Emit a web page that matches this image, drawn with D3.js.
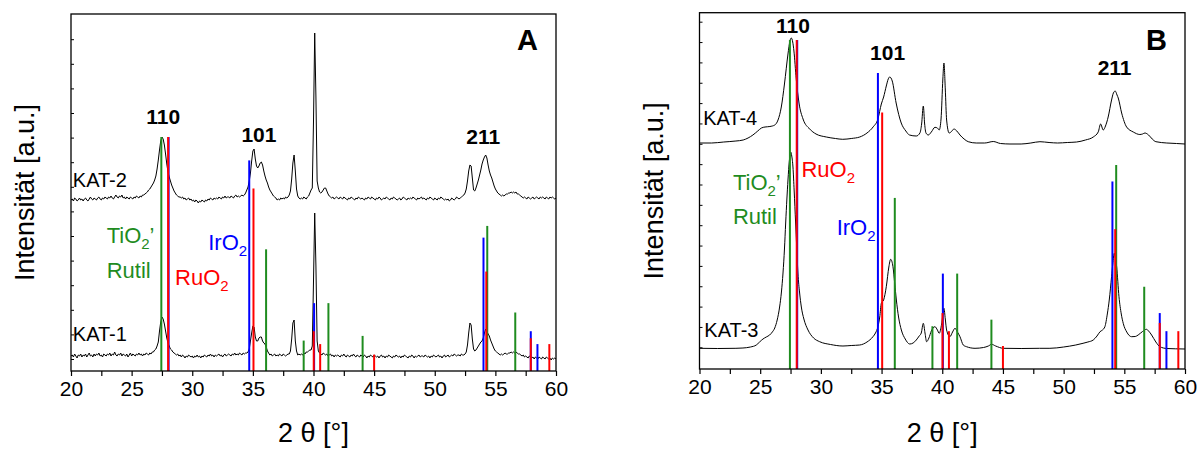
<!DOCTYPE html>
<html>
<head>
<meta charset="utf-8">
<script src="https://cdn.jsdelivr.net/npm/d3@7"></script>
<style>
  html, body { margin: 0; padding: 0; background: #fff; }
  svg { display: block; font-family: "Liberation Sans", Arial, Helvetica, sans-serif; }
</style>
</head>
<body>
<svg id="chart" width="1203" height="449"></svg>
<script>
// ---- measured diffractograms, 2θ = 20.0 … 60.0 °, step 0.1 ° (intensity in a.u.) ----
const angleGrid = d3.range(200, 601).map(i => i / 10);

const kat2 = [
  171,172,170,173,172,170,171,173,171,172,
  170,172,173,171,170,172,174,172,171,173,
  172,171,173,174,172,171,173,172,174,173,
  172,174,173,175,173,172,174,176,174,173,
  175,174,176,173,174,172,174,173,172,174,
  173,172,174,173,175,174,173,175,174,176,
  176,177,178,179,181,182,184,186,188,191,
  195,202,211,221,230,234,232,226,217,207,
  199,194,190,186,183,180,178,176,175,174,
  174,173,174,172,173,171,172,173,171,172,
  170,171,169,171,170,168,170,169,171,170,
  169,171,170,172,171,173,172,171,173,172,
  173,172,174,173,172,174,173,175,173,174,
  174,173,175,174,173,175,176,174,175,174,
  175,176,175,176,178,181,184,190,198,210,
  220,222,212,205,203,205,208,209,206,200,
  195,191,188,184,181,179,177,175,174,173,
  171,172,171,173,172,173,172,174,173,174,
  176,180,192,208,216,200,182,175,173,172,
  173,172,174,173,172,174,175,178,181,183,
  250,338,274,190,183,179,178,179,181,183,
  183,180,177,175,174,173,174,172,173,174,
  173,172,174,173,172,174,173,172,171,173,
  172,174,173,172,171,173,172,174,173,172,
  173,172,171,173,172,174,173,172,174,173,
  172,171,173,172,174,173,171,172,173,172,
  174,173,172,171,173,172,174,173,172,171,
  172,173,171,172,174,173,172,171,173,172,
  173,172,174,173,172,171,173,172,173,174,
  172,173,172,171,173,172,174,173,172,171,
  173,172,171,173,172,174,173,172,171,172,
  171,172,170,171,173,172,171,172,174,173,
  172,173,174,175,176,178,182,190,200,206,
  205,193,181,180,183,187,191,196,201,207,
  211,214,216,213,206,200,196,193,189,185,
  182,180,178,177,176,175,176,175,176,177,
  177,178,178,179,178,179,178,179,177,177,
  176,175,174,173,174,173,172,174,173,172,
  173,174,172,173,174,173,172,174,173,174,
  173,172,174,173,172,174,173,174,173,172,
  173
];

const kat1 = [
  15,16,14,17,15,13,16,15,17,14,
  16,15,17,14,16,18,15,16,14,17,
  15,17,16,18,15,16,14,17,16,15,
  17,16,18,15,17,16,19,16,15,17,
  16,18,15,17,16,15,17,14,16,18,
  15,17,16,15,17,16,18,16,17,15,
  17,16,18,17,16,18,17,19,19,21,
  22,25,29,40,49,54,52,47,40,33,
  28,25,22,21,19,18,17,16,17,15,
  16,14,16,15,13,15,14,16,15,14,
  15,13,15,14,16,14,15,13,15,14,
  16,15,14,16,15,17,15,16,14,16,
  15,16,17,15,16,14,16,17,15,16,
  17,16,15,17,16,18,16,17,16,18,
  17,16,18,17,18,18,19,22,30,38,
  45,44,34,30,30,33,34,34,30,28,
  27,24,20,18,16,17,15,16,17,15,
  16,15,17,16,15,17,16,15,16,17,
  17,20,32,48,51,30,20,16,17,16,
  17,16,18,17,19,19,20,21,21,25,
  90,158,105,30,20,18,17,16,18,17,
  16,17,15,16,17,15,16,14,16,15,
  16,15,14,16,15,17,15,14,16,15,
  14,16,15,17,15,14,16,15,14,16,
  15,14,16,15,13,15,14,16,15,14,
  16,15,14,15,13,15,16,14,15,13,
  15,14,16,15,14,13,15,14,16,15,
  14,15,13,15,14,16,15,14,13,15,
  14,16,15,13,15,14,15,16,14,15,
  15,14,16,15,14,15,13,15,14,16,
  15,14,15,16,14,15,13,15,16,14,
  15,16,14,15,16,15,17,16,15,16,
  16,15,17,16,16,17,19,26,38,48,
  46,32,22,20,21,23,25,27,29,30,
  33,38,42,40,37,35,31,28,25,22,
  20,19,18,17,16,17,16,17,18,17,
  17,18,18,19,18,19,18,19,18,17,
  17,16,15,16,14,15,14,13,15,14,
  13,14,12,14,13,12,14,13,12,14,
  13,12,14,13,12,13,11,13,12,13,
  12
];

// smoother scans, [2θ, intensity]
const kat4 = [
  [20.0,226],[21.0,226],[22.0,227],[23.0,228],[23.6,229],[24.0,231],[24.4,234],[24.8,238],
  [25.1,241],[25.4,242],[25.8,242.5],[26.2,244],[26.47,249],[26.74,262],[27.0,285],[27.29,315],
  [27.45,328],[27.56,331],[27.68,327],[27.78,318],[27.97,290],[28.2,266],[28.53,250],[29.08,240],
  [29.6,235],[30.45,232],[31.2,230.5],[31.8,229.7],[32.5,230.5],[33.2,232],[33.8,236],[34.3,242],
  [34.7,250],[34.98,265],[35.17,272],[35.39,283],[35.55,290],[35.67,292],[35.88,288],[36.2,266],
  [36.62,246],[37.0,238],[37.3,234],[37.86,233],[38.16,236],[38.3,245],[38.44,263],[38.55,245],
  [38.66,236],[38.85,234],[39.1,237],[39.4,241.7],[39.6,241],[39.75,239],[39.9,250],[40.05,290],
  [40.14,306],[40.25,280],[40.36,249],[40.57,236],[40.8,238],[40.96,240],[41.2,238],[41.46,234],
  [41.8,230],[42.14,227.3],[42.8,226],[43.5,226],[44.2,227.5],[44.8,225.5],[45.58,225],[46.5,225],
  [47.3,226],[48.05,227.3],[48.8,226.5],[49.5,226],[50.3,226.5],[51.07,227],[51.8,229],[52.44,232],
  [52.85,237],[53.05,245],[53.26,239],[53.45,243],[53.67,252],[53.95,269],[54.1,276],[54.25,278],
  [54.4,274],[54.5,271],[54.78,256],[55.19,242],[55.74,237],[56.28,234.5],[56.5,235],[56.7,236],
  [57.0,234],[57.3,230],[57.6,227.3],[58.5,226],[59.3,225.5],[60.0,225]
];

const kat3 = [
  [20.0,20.7],[21.5,20.5],[23.0,20.7],[23.58,21],[24.2,22],[24.68,24],[24.95,27],[25.23,30],
  [25.5,32],[25.78,34],[26.0,37],[26.2,41],[26.4,49],[26.6,62],[26.75,77],[26.88,96],
  [27.0,120],[27.1,146],[27.2,170],[27.29,189],[27.4,208],[27.51,217],[27.6,213],[27.7,202],
  [27.8,178],[27.92,146],[28.0,124],[28.11,96],[28.25,76],[28.39,62],[28.6,50],[28.94,39],
  [29.4,31],[29.9,27.3],[30.8,24.5],[31.82,23],[32.5,23.5],[33.2,24],[33.8,27],[34.29,32.3],
  [34.5,36],[34.7,42.3],[34.85,52],[34.98,65.7],[35.17,69],[35.39,82.3],[35.6,102],[35.75,109.7],
  [35.94,102.3],[36.08,86],[36.22,69],[36.4,52],[36.63,39],[36.95,30],[37.32,25],[37.6,26],
  [37.86,29],[38.1,33],[38.27,36],[38.44,45.7],[38.58,36],[38.71,27.3],[38.9,31],[39.1,38],
  [39.4,42.3],[39.6,39],[39.75,35.7],[39.95,45],[40.14,60.7],[40.25,50],[40.36,39],[40.63,32.3],
  [40.85,37],[41.05,40.7],[41.25,37],[41.46,32.3],[41.73,24],[42.0,22.3],[42.7,20.7],[43.4,21.5],
  [43.8,23],[44.07,24.7],[44.4,23],[45.03,20.7],[46.5,20.5],[48.0,20.7],[48.87,20.7],[50.0,22],
  [51.0,24],[51.6,25.7],[52.0,27],[52.44,29],[52.75,33],[53.0,37.3],[53.2,39],[53.4,42.3],
  [53.6,55],[53.76,69],[53.95,92.3],[54.05,105],[54.17,115.7],[54.27,111],[54.37,102.3],[54.56,72.3],
  [54.75,55],[54.91,45.7],[55.2,37],[55.6,32.3],[55.9,32.5],[56.14,34],[56.5,37.5],[56.83,39.7],
  [57.0,38],[57.25,34],[57.6,27],[57.93,22.3],[58.5,20.5],[59.2,20.2],[60.0,20]
];

// ---- reference patterns [2θ, relative intensity %] ----
const rutilTiO2 = [[27.45,100],[36.09,52],[39.19,13],[41.23,29],[44.05,15],[54.33,62],[56.64,25]];
const iro2Ref   = [[28.05,100],[34.70,90],[40.05,29],[54.02,57],[57.92,17],[58.47,11.5]];
const ruo2Ref   = [[28.01,100],[35.05,78],[40.02,17],[40.55,11.5],[45.00,7],[54.25,42.5],[57.92,14],[59.45,11.5]];

const xTickValues = [20, 25, 30, 35, 40, 45, 50, 55, 60];
const xMinorValues = [22.5, 27.5, 32.5, 37.5, 42.5, 47.5, 52.5, 57.5];

const COL = { tio2: "#1f8c1f", iro2: "#0000ff", ruo2: "#ff0000", ink: "#000" };

const svg = d3.select("#chart");

const panels = [
  {
    letter: "A", left: 71, right: 556, top: 14, bottom: 371,
    yMax: 357, stickFull: 234, yTickStart: 12, yTickStep: 24.6,
    scans: [
      { data: angleGrid.map((t, i) => [t, kat2[i]]), smooth: false },
      { data: angleGrid.map((t, i) => [t, kat1[i]]), smooth: false }
    ],
    scanLabels: [{ text: "KAT-2", x: 20.15, y: 184 }, { text: "KAT-1", x: 20.15, y: 30.5 }],
    hkl: [{ text: "110", x: 27.6, y: 247 }, { text: "101", x: 35.5, y: 229.5 }, { text: "211", x: 54.0, y: 227 }],
    phases: {
      tio2: { x: 22.94, y: 127.7, y2: 92.7 },
      ruo2: { x: 28.58, y: 86 },
      iro2: { x: 31.32, y: 121 }
    }
  },
  {
    letter: "B", left: 699.5, right: 1185, top: 12.7, bottom: 369,
    yMax: 356.3, stickFull: 329, yTickStart: 21.7, yTickStep: 20.35,
    scans: [
      { data: kat4, smooth: true },
      { data: kat3, smooth: true }
    ],
    scanLabels: [{ text: "KAT-4", x: 20.3, y: 244 }, { text: "KAT-3", x: 20.4, y: 32.3 }],
    hkl: [{ text: "110", x: 27.7, y: 335.7 }, { text: "101", x: 35.5, y: 309 }, { text: "211", x: 54.2, y: 294 }],
    phases: {
      tio2: { x: 22.75, y: 179, y2: 145 },
      ruo2: { x: 28.4, y: 192.3 },
      iro2: { x: 31.3, y: 134 }
    }
  }
];

function phaseLabel(g, x, y, main, sub, tail, color) {
  const t = g.append("text").attr("x", x).attr("y", y)
    .attr("fill", color).attr("font-size", 22);
  t.append("tspan").text(main);
  t.append("tspan").attr("font-size", 15).attr("dy", 6).text(sub);
  if (tail) t.append("tspan").attr("dy", -6).text(tail);
}

panels.forEach(p => {
  const x = d3.scaleLinear().domain([20, 60]).range([p.left, p.right]);
  const y = d3.scaleLinear().domain([0, p.yMax]).range([p.bottom, p.top]);
  const yStick = d3.scaleLinear().domain([0, 100]).range([y(0), y(p.stickFull)]);
  const g = svg.append("g");

  // scans
  const line = d3.line().x(d => x(d[0])).y(d => y(d[1]))
    .curve(d3.curveLinear);
  const smoothLine = d3.line().x(d => x(d[0])).y(d => y(d[1]))
    .curve(d3.curveMonotoneX);
  p.scans.forEach(s => {
    g.append("path").datum(s.data)
      .attr("d", s.smooth ? smoothLine : line)
      .attr("fill", "none").attr("stroke", COL.ink)
      .attr("stroke-width", 1).attr("stroke-linejoin", "round");
  });

  // reference sticks
  [[rutilTiO2, COL.tio2], [iro2Ref, COL.iro2], [ruo2Ref, COL.ruo2]].forEach(([ref, col]) => {
    g.append("g").selectAll("line").data(ref).join("line")
      .attr("x1", d => x(d[0])).attr("x2", d => x(d[0]))
      .attr("y1", yStick(0)).attr("y2", d => yStick(d[1]))
      .attr("stroke", col).attr("stroke-width", 2);
  });

  // axes
  const xAxis = d3.axisBottom(x).tickValues(xTickValues).tickSize(5).tickSizeOuter(0).tickPadding(5)
    .tickFormat(d3.format("d"));
  const gx = g.append("g").attr("transform", `translate(0,${p.bottom})`).call(xAxis);
  gx.selectAll("text").attr("font-size", 21).attr("font-family", "Liberation Sans, Arial, sans-serif").attr("fill", COL.ink);
  gx.selectAll("line").attr("stroke-width", 1.2);
  gx.select(".domain").remove();
  const xMinor = d3.axisBottom(x).tickValues(xMinorValues).tickSize(5).tickSizeOuter(0).tickFormat("");
  const gxm = g.append("g").attr("transform", `translate(0,${p.bottom})`).call(xMinor);
  gxm.select(".domain").remove();
  gxm.selectAll("line").attr("stroke-width", 1.2);

  const yTicks = d3.range(p.yTickStart, p.yMax - 2, p.yTickStep);
  const yAxis = d3.axisLeft(y).tickValues(yTicks).tickSize(-3).tickSizeOuter(0).tickFormat("");
  const gy = g.append("g").attr("transform", `translate(${p.left},0)`).call(yAxis);
  gy.select(".domain").remove();
  gy.selectAll("line").attr("stroke-width", 1);

  // frame
  g.append("rect").attr("x", p.left).attr("y", p.top)
    .attr("width", p.right - p.left).attr("height", p.bottom - p.top)
    .attr("fill", "none").attr("stroke", COL.ink).attr("stroke-width", 1.3);

  // axis titles
  const mid = (p.left + p.right) / 2;
  g.append("text").attr("x", mid).attr("y", 442).attr("text-anchor", "middle")
    .attr("font-size", 27).attr("fill", COL.ink).text("2 θ [°]");
  g.append("text")
    .attr("transform", `translate(${p.left - 37},${(p.top + p.bottom) / 2}) rotate(-90)`)
    .attr("text-anchor", "middle").attr("font-size", 27).attr("fill", COL.ink)
    .text("Intensität [a.u.]");

  // panel letter
  g.append("text").attr("x", p.right - 39).attr("y", 50)
    .attr("font-size", 29).attr("font-weight", "bold").attr("fill", COL.ink).text(p.letter);

  // sample names
  p.scanLabels.forEach(l => {
    g.append("text").attr("x", x(l.x)).attr("y", y(l.y))
      .attr("font-size", 20).attr("fill", COL.ink).text(l.text);
  });

  // reflection indices
  p.hkl.forEach(h => {
    g.append("text").attr("x", x(h.x)).attr("y", y(h.y)).attr("text-anchor", "middle")
      .attr("font-size", 21).attr("font-weight", "bold").attr("fill", COL.ink).text(h.text);
  });

  // phase legends
  const ph = p.phases;
  phaseLabel(g, x(ph.tio2.x), y(ph.tio2.y), "TiO", "2", "’", COL.tio2);
  g.append("text").attr("x", x(ph.tio2.x)).attr("y", y(ph.tio2.y2))
    .attr("fill", COL.tio2).attr("font-size", 22).text("Rutil");
  phaseLabel(g, x(ph.ruo2.x), y(ph.ruo2.y), "RuO", "2", null, COL.ruo2);
  phaseLabel(g, x(ph.iro2.x), y(ph.iro2.y), "IrO", "2", null, COL.iro2);
});
</script>
</body>
</html>
